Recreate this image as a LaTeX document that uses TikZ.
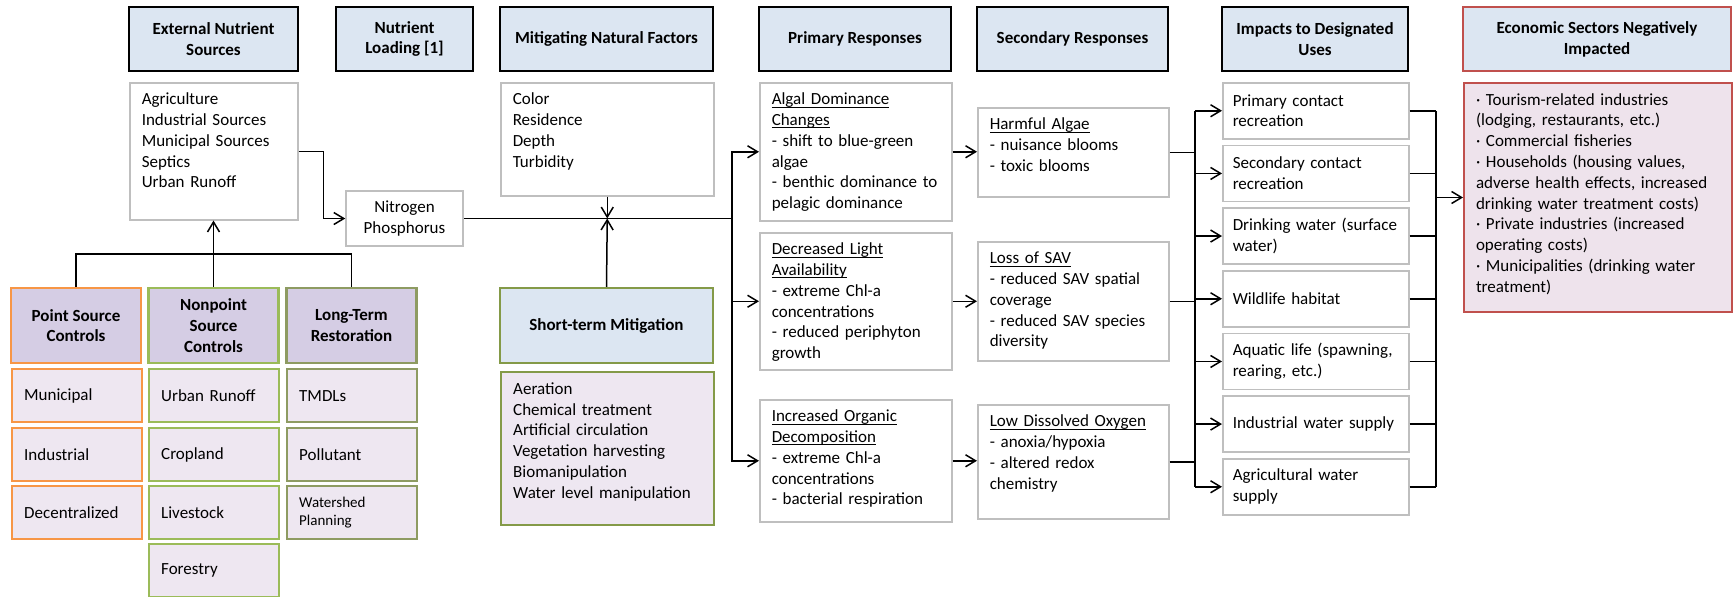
\documentclass[tikz,border=0pt]{standalone}
\usepackage{fontspec}
\setmainfont{Carlito}
\usetikzlibrary{arrows.meta}

\definecolor{hdrblue}{HTML}{DCE6F2}
\definecolor{lavhead}{HTML}{D5CDE4}
\definecolor{lavitem}{HTML}{EEE7F1}
\definecolor{ptorange}{HTML}{F79646}
\definecolor{npgreen}{HTML}{9BBB59}
\definecolor{ltolive}{HTML}{8E9B62}
\definecolor{stolive}{HTML}{849A48}
\definecolor{ecored}{HTML}{C0504D}
\definecolor{ecofill}{HTML}{EEE3EC}
\definecolor{boxgray}{HTML}{BFBFBF}

\newcommand\undr[1]{\leavevmode\sbox0{#1}\rlap{\rule[-1.4pt]{\wd0}{0.5pt}}\usebox0}

\begin{document}
\begin{tikzpicture}[x=0.5pt,y=-0.5pt,line width=0.75pt,
  >={Straight Barb[length=5pt,width=6pt]},
  every node/.style={font=\fontsize{8.5}{10.4}\selectfont},
  hdr/.style={draw=black,line width=1.35pt,fill=hdrblue,align=center,
    font=\fontsize{8.5}{10.4}\selectfont\bfseries,minimum height=32pt,inner sep=2pt},
  lst/.style={draw=boxgray,fill=white,anchor=north west,align=left,
    inner xsep=6pt,inner ysep=4pt,text height=7pt,text depth=#1},
  imp/.style={draw=boxgray,fill=white,anchor=north west,align=left,
    minimum height=28pt,text width=83pt,inner xsep=5pt},
  ctlhdr/.style={fill=lavhead,line width=1.2pt,align=center,
    font=\fontsize{8.5}{10.4}\selectfont\bfseries,minimum width=65pt,minimum height=37.5pt},
  ctlitem/.style={fill=lavitem,line width=1.2pt,anchor=north west,align=left,
    minimum height=26.5pt,text width=53pt,inner xsep=6pt}]
\useasboundingbox (0,0) rectangle (1734,596);

% column headers
\node[hdr,minimum width=84.5pt] (hExt) at (213.5,39) {External Nutrient\\Sources};
\node[hdr,minimum width=68.5pt] (hLoad) at (404.5,39) {Nutrient\\Loading [1]};
\node[hdr,minimum width=106.5pt] (hMit) at (606.5,39) {Mitigating Natural Factors};
\node[hdr,minimum width=96pt] (hPri) at (855,39) {Primary Responses};
\node[hdr,minimum width=95.5pt] (hSec) at (1072.5,39) {Secondary Responses};
\node[hdr,minimum width=93pt] (hImp) at (1315,39) {Impacts to Designated\\Uses};
\node[hdr,draw=ecored,line width=1pt,minimum width=134pt] (hEco) at (1597,39) {Economic Sectors Negatively\\Impacted};

% sources and loading
\node[lst=53.5pt,text width=72pt] (ext) at (129,82) {Agriculture\\Industrial Sources\\Municipal Sources\\Septics\\Urban Runoff};
\node[draw=boxgray,fill=white,minimum width=58.5pt,minimum height=27.5pt,align=center] (nit) at (404.5,218.5) {Nitrogen\\Phosphorus};
\node[lst=41.5pt,text width=94.5pt] (mit) at (500,82) {Color\\Residence\\Depth\\Turbidity};

% primary responses
\node[lst=54pt,text width=84pt] (pri1) at (759,82) {\undr{Algal Dominance}\\\undr{Changes}\\- shift to blue-green\\algae\\- benthic dominance to\\pelagic dominance};
\node[lst=53.5pt,text width=84pt] (pri2) at (759,232) {\undr{Decreased Light}\\\undr{Availability}\\- extreme Chl-a\\concentrations\\- reduced periphyton\\growth};
\node[lst=46pt,text width=84pt] (pri3) at (759,399) {\undr{Increased Organic}\\\undr{Decomposition}\\- extreme Chl-a\\concentrations\\- bacterial respiration};

% secondary responses
\node[lst=29.5pt,text width=83.5pt] (sec1) at (977,107) {\undr{Harmful Algae}\\- nuisance blooms\\- toxic blooms};
\node[lst=44.5pt,text width=83.5pt] (sec2) at (977,241) {\undr{Loss of SAV}\\- reduced SAV spatial\\coverage\\- reduced SAV species\\diversity};
\node[lst=42pt,text width=83.5pt] (sec3) at (977,404) {\undr{Low Dissolved Oxygen}\\- anoxia/hypoxia\\- altered redox\\chemistry};

% designated uses
\node[imp] (imp1) at (1222,82) {Primary contact\\recreation};
\node[imp] (imp2) at (1222,144.7) {Secondary contact\\recreation};
\node[imp] (imp3) at (1222,207.3) {Drinking water (surface\\water)};
\node[imp] (imp4) at (1222,270) {Wildlife habitat};
\node[imp] (imp5) at (1222,332.7) {Aquatic life (spawning,\\rearing, etc.)};
\node[imp] (imp6) at (1222,395.3) {Industrial water supply};
\node[imp] (imp7) at (1222,458) {Agricultural water\\supply};

% economic sectors
\node[lst=99.5pt,draw=ecored,line width=1pt,fill=ecofill,text width=122pt] (eco) at (1463,82) {· Tourism-related industries\\(lodging, restaurants, etc.)\\· Commercial fisheries\\· Households (housing values,\\adverse health effects, increased\\drinking water treatment costs)\\· Private industries (increased\\operating costs)\\· Municipalities (drinking water\\treatment)};

% controls
\node[ctlhdr,draw=ptorange] (hPS) at (76,325.5) {Point Source\\Controls};
\node[ctlhdr,draw=npgreen] (hNP) at (213.5,325.5) {Nonpoint\\Source\\Controls};
\node[ctlhdr,draw=ltolive] (hLT) at (351.5,325.5) {Long-Term\\Restoration};

\node[ctlitem,draw=ptorange] (psMun) at (11,368) {Municipal};
\node[ctlitem,draw=ptorange] (psInd) at (11,427) {Industrial};
\node[ctlitem,draw=ptorange] (psDec) at (11,485) {Decentralized};
\node[ctlitem,draw=npgreen] (npUrb) at (148,368) {Urban Runoff};
\node[ctlitem,draw=npgreen] (npCrop) at (148,427) {Cropland};
\node[ctlitem,draw=npgreen] (npLive) at (148,485) {Livestock};
\node[ctlitem,draw=npgreen] (npFor) at (148,543) {Forestry};
\node[ctlitem,draw=ltolive] (ltTMDL) at (286,368) {TMDLs};
\node[ctlitem,draw=ltolive] (ltPoll) at (286,427) {Pollutant};
\node[ctlitem,draw=ltolive,font=\fontsize{7.5}{9.3}\selectfont] (ltWat) at (286,485) {Watershed\\Planning};

% short-term mitigation
\node[ctlhdr,fill=hdrblue,draw=stolive,minimum width=106.5pt] (hST) at (606.5,325.5) {Short-term Mitigation};
\node[lst=61.5pt,fill=lavitem,draw=stolive,line width=1.2pt,text width=94.5pt] (stl) at (500,371) {Aeration\\Chemical treatment\\Artificial circulation\\Vegetation harvesting\\Biomanipulation\\Water level manipulation};

% connectors
\coordinate (ctlbus) at (213.5,254);
\draw (hPS.north) |- (ctlbus) -| (hLT.north);
\draw[->] (hNP.north) -- (hNP.north |- ext.south);
\draw[->] (ext.east) -- ++(25,0) |- (nit.west);

\coordinate (split) at (732,218.5);
\coordinate (mitx) at (mit.south |- nit.east);
\draw (nit.east) -- (split);
\draw[->] (mit.south) -- (mitx);
\draw[->] (hST.north) -- (mitx);
\foreach \p in {pri1,pri2,pri3}
{
    \draw[->] (split) |- (\p.west);
}

\draw[->] (pri1.east) -- (sec1.west |- pri1.east);
\draw[->] (pri2.east) -- (sec2.west |- pri2.east);
\draw[->] (pri3.east) -- (sec3.west |- pri3.east);

\coordinate (busL) at (1195,0);
\coordinate (busR) at (1436,0);
\foreach \s in {sec1,sec2,sec3}
{
    \draw (\s.east) -- (\s.east -| busL);
}
\draw (imp1.west -| busL) -- (imp7.west -| busL);
\draw (imp1.east -| busR) -- (imp7.east -| busR);
\foreach \i in {1,...,7}
{
    \draw[->] (imp\i.west -| busL) -- (imp\i.west);
    \draw (imp\i.east) -- (imp\i.east -| busR);
}
\draw[->] (eco.west -| busR) -- (eco.west);

\end{tikzpicture}
\end{document}
